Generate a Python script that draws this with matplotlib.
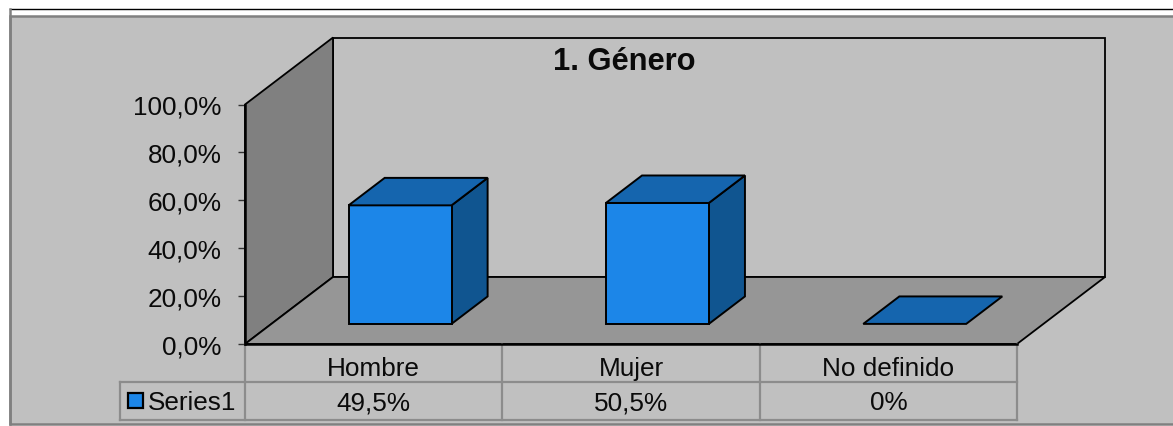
import matplotlib
matplotlib.use("Agg")
import matplotlib.pyplot as plt
from matplotlib.patches import Polygon, Rectangle

plt.rcParams['font.family'] = ['Liberation Sans', 'DejaVu Sans']

categorias = ["Hombre", "Mujer", "No definido"]
valores = [49.5, 50.5, 0.0]
etiquetas_valor = ["49,5%", "50,5%", "0%"]
serie = "Series1"
ticks_y = [0, 20, 40, 60, 80, 100]
etiquetas_y = ["0,0%", "20,0%", "40,0%", "60,0%", "80,0%", "100,0%"]
titulo = "1. Género"

ANCHO, ALTO = 1173, 427
# plano frontal del grafico en pixeles
X0, X1, Y0, Y1 = 245, 1017, 345, 105.5
# profundidad total de la caja en unidades de datos
PROF_X = 88 / ((X1 - X0) / 3)
PROF_Y = 67 / ((Y0 - Y1) / 100)
ANCHO_BARRA = 0.40
Z_FRENTE, Z_FONDO = 0.30, 0.71

C_PANEL = "#c0c0c0"
C_PARED = "#808080"
C_PISO = "#969696"
C_BARRA = "#1c86e8"
C_TAPA = "#1565ae"
C_LADO = "#105590"
C_REJA = "#8c8c8c"
C_TEXTO = "#0a0a0a"


def proy(x, y, z):
    # proyeccion oblicua: z va de 0 (frente) a 1 (fondo)
    return (x + z * PROF_X, y + z * PROF_Y)


def y_px(p):
    return (Y0 - p) / ((Y0 - Y1) / 100)


fig = plt.figure(figsize=(ANCHO / 100, ALTO / 100), dpi=100, facecolor="white")

# fondo y marco, en pixeles
fondo = fig.add_axes([0, 0, 1, 1])
fondo.set_xlim(0, ANCHO)
fondo.set_ylim(ALTO, 0)
fondo.axis("off")
fondo.add_patch(Rectangle((10, 17), ANCHO, 408, fc=C_PANEL, ec="#808080", lw=1.8))
fondo.plot([10, ANCHO], [9.5, 9.5], color="black", lw=1.0)
fondo.plot([10, 10], [9.5, 425], color="#808080", lw=1.8)

ax = fig.add_axes([X0 / ANCHO, 1 - Y0 / ALTO, (X1 - X0) / ANCHO, (Y0 - Y1) / ALTO])
ax.set_xlim(0, 3)
ax.set_ylim(0, 100)
ax.patch.set_visible(False)
for lado in ["top", "right", "bottom"]:
    ax.spines[lado].set_visible(False)
ax.spines["left"].set_linewidth(1.8)
ax.spines["left"].set_zorder(6)
ax.set_xticks([])
ax.set_yticks(ticks_y)
ax.set_yticklabels(etiquetas_y, fontsize=18.8, color=C_TEXTO)
ax.tick_params(axis="y", length=5, width=1, color="#333333", pad=12)


def poli(puntos, color, lw=1.4, z=2):
    ax.add_patch(Polygon(puntos, closed=True, fc=color, ec="black", lw=lw,
                         joinstyle="miter", clip_on=False, zorder=z))


# caja 3D
poli([proy(0, 0, 1), proy(3, 0, 1), proy(3, 100, 1), proy(0, 100, 1)], C_PANEL, 1.3, 1)
poli([proy(0, 0, 0), proy(0, 100, 0), proy(0, 100, 1), proy(0, 0, 1)], C_PARED, 1.3, 2)
poli([proy(0, 0, 0), proy(3, 0, 0), proy(3, 0, 1), proy(0, 0, 1)], C_PISO, 1.3, 2)
ax.plot([0, 3], [0, 0], color="black", lw=1.8, clip_on=False, zorder=5)

# barras
for i, v in enumerate(valores):
    a = i + 0.5 - ANCHO_BARRA / 2
    b = a + ANCHO_BARRA
    if v > 0:
        poli([proy(b, 0, Z_FRENTE), proy(b, 0, Z_FONDO), proy(b, v, Z_FONDO), proy(b, v, Z_FRENTE)], C_LADO, 1.4, 3)
        poli([proy(a, 0, Z_FRENTE), proy(b, 0, Z_FRENTE), proy(b, v, Z_FRENTE), proy(a, v, Z_FRENTE)], C_BARRA, 1.4, 4)
    poli([proy(a, v, Z_FRENTE), proy(b, v, Z_FRENTE), proy(b, v, Z_FONDO), proy(a, v, Z_FONDO)], C_TAPA, 1.4, 4)

# tabla de datos
y_fila = y_px(383)
y_pie = y_px(421)
x_izq = (120 - X0) / ((X1 - X0) / 3)
lineas = dict(color=C_REJA, lw=1.6, clip_on=False, zorder=3)
for i in range(4):
    ax.plot([i, i], [0, y_pie], **lineas)
ax.plot([x_izq, 3], [y_fila, y_fila], **lineas)
ax.plot([x_izq, 3], [y_pie, y_pie], **lineas)
ax.plot([x_izq, x_izq], [y_fila, y_pie], **lineas)

for i, (c, e) in enumerate(zip(categorias, etiquetas_valor)):
    ax.text(i + 0.5, y_px(369), c, ha="center", va="center", fontsize=18.8, color=C_TEXTO, clip_on=False)
    ax.text(i + 0.5, y_px(403.5), e, ha="center", va="center", fontsize=18.8, color=C_TEXTO, clip_on=False)

# clave de la serie
fondo.add_patch(Rectangle((128, 394), 15, 15, fc=C_BARRA, ec="black", lw=1.6))
fondo.text(148, 403.5, serie, ha="left", va="center", fontsize=18.8, color=C_TEXTO)

# el titulo va encima de la caja
fig.text(624 / ANCHO, 1 - 62 / ALTO, titulo, ha="center", va="center", fontsize=22.2, fontweight="bold", color=C_TEXTO, zorder=10)

fig.savefig("out.png", dpi=100)
